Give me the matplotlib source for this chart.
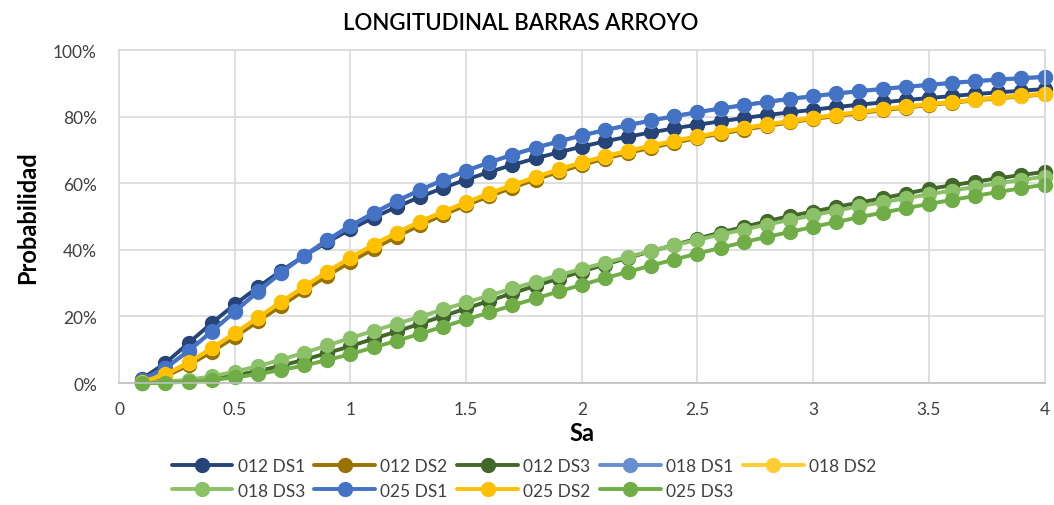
import matplotlib
matplotlib.use("Agg")
import matplotlib.pyplot as plt
from matplotlib.ticker import PercentFormatter

plt.rcParams['font.family'] = ['Lato', 'DejaVu Sans']

sa = [round(0.1 * i, 1) for i in range(1, 41)]

s012_ds1 = [1.3, 6.0, 12.0, 18.0, 23.6, 28.8, 33.7, 38.2, 42.3, 46.2,
            49.7, 52.9, 55.9, 58.6, 61.1, 63.4, 65.5, 67.5, 69.3, 71.0,
            72.6, 74.0, 75.3, 76.5, 77.6, 78.6, 79.6, 80.5, 81.3, 82.1,
            82.9, 83.6, 84.3, 85.0, 85.6, 86.2, 86.8, 87.3, 87.8, 88.3]
s012_ds2 = [0.3, 2.0, 5.3, 9.4, 13.8, 18.5, 23.2, 27.8, 32.2, 36.4,
            40.3, 44.0, 47.4, 50.5, 53.4, 56.1, 58.7, 61.1, 63.4, 65.5,
            67.4, 69.1, 70.7, 72.2, 73.6, 74.9, 76.1, 77.2, 78.3, 79.3,
            80.2, 81.1, 81.9, 82.7, 83.5, 84.2, 84.9, 85.5, 86.1, 86.7]
s012_ds3 = [0.0, 0.2, 0.6, 1.3, 2.3, 3.6, 5.2, 7.0, 9.0, 11.1,
            13.3, 15.5, 17.8, 20.1, 22.4, 24.7, 27.0, 29.2, 31.4, 33.5,
            35.6, 37.6, 39.6, 41.5, 43.4, 45.2, 46.9, 48.6, 50.2, 51.5,
            52.9, 54.2, 55.5, 56.9, 58.3, 59.4, 60.5, 61.5, 62.5, 63.4]
s018_ds1 = [1.0, 4.4, 9.6, 15.4, 21.4, 27.4, 33.1, 38.2, 42.9, 47.2,
            51.0, 54.6, 57.9, 60.9, 63.7, 66.2, 68.5, 70.6, 72.5, 74.3,
            75.9, 77.4, 78.8, 80.1, 81.3, 82.4, 83.4, 84.4, 85.3, 86.1,
            86.9, 87.6, 88.3, 88.9, 89.5, 90.1, 90.6, 91.1, 91.5, 91.9]
s018_ds2 = [0.4, 2.5, 6.1, 10.4, 14.9, 19.6, 24.3, 28.9, 33.4, 37.6,
            41.5, 45.1, 48.4, 51.4, 54.2, 56.9, 59.4, 61.8, 64.1, 66.2,
            68.0, 69.7, 71.2, 72.7, 74.0, 75.3, 76.5, 77.6, 78.6, 79.6,
            80.5, 81.4, 82.2, 83.0, 83.7, 84.4, 85.1, 85.7, 86.3, 86.8]
s018_ds3 = [0.1, 0.4, 1.0, 2.0, 3.4, 5.1, 7.0, 9.1, 11.3, 13.5,
            15.7, 17.8, 19.9, 22.1, 24.2, 26.3, 28.4, 30.4, 32.4, 34.3,
            36.1, 37.9, 39.7, 41.4, 43.0, 44.6, 46.1, 47.6, 49.0, 50.4,
            51.8, 53.1, 54.3, 55.5, 56.7, 57.8, 58.9, 60.0, 61.0, 62.0]
s025_ds1 = [1.0, 4.5, 9.7, 15.5, 21.5, 27.5, 33.2, 38.3, 43.0, 47.3,
            51.1, 54.7, 58.0, 61.0, 63.8, 66.3, 68.6, 70.7, 72.6, 74.4,
            76.0, 77.5, 78.9, 80.2, 81.4, 82.5, 83.5, 84.5, 85.4, 86.2,
            87.0, 87.7, 88.4, 89.0, 89.6, 90.2, 90.7, 91.2, 91.6, 92.0]
s025_ds2 = [0.4, 2.6, 6.2, 10.5, 15.0, 19.7, 24.4, 29.0, 33.5, 37.7,
            41.6, 45.2, 48.5, 51.5, 54.3, 57.0, 59.5, 61.9, 64.2, 66.3,
            68.1, 69.8, 71.3, 72.8, 74.1, 75.4, 76.6, 77.7, 78.7, 79.7,
            80.6, 81.5, 82.3, 83.1, 83.8, 84.5, 85.2, 85.8, 86.4, 86.9]
s025_ds3 = [0.0, 0.1, 0.4, 0.9, 1.7, 2.7, 3.9, 5.3, 6.9, 8.7,
            10.7, 12.7, 14.8, 16.9, 19.1, 21.2, 23.3, 25.4, 27.5, 29.5,
            31.5, 33.4, 35.3, 37.1, 38.9, 40.6, 42.3, 43.9, 45.4, 46.9,
            48.4, 49.8, 51.2, 52.5, 53.8, 55.0, 56.2, 57.4, 58.5, 59.6]

labels = ["012 DS1", "012 DS2", "012 DS3", "018 DS1", "018 DS2",
          "018 DS3", "025 DS1", "025 DS2", "025 DS3"]
series = [s012_ds1, s012_ds2, s012_ds3, s018_ds1, s018_ds2,
          s018_ds3, s025_ds1, s025_ds2, s025_ds3]
colors = ["#264478", "#997300", "#43682B", "#698ED0", "#FFCD33",
          "#8CC168", "#4472C4", "#FFC000", "#70AD47"]

title = "LONGITUDINAL BARRAS ARROYO"
xticks = [0, 0.5, 1, 1.5, 2, 2.5, 3, 3.5, 4]
xticklabels = ["0", "0.5", "1", "1.5", "2", "2.5", "3", "3.5", "4"]
yticks = [0, 20, 40, 60, 80, 100]

fig = plt.figure(figsize=(10.54, 5.06), dpi=100)
ax = fig.add_axes([0.113, 0.241, 0.878, 0.658])

handles = []
for lab, vals, col in zip(labels, series, colors):
    h, = ax.plot(sa, [v / 100 for v in vals], color=col, lw=2.8,
                 marker='o', markersize=10, label=lab, clip_on=False,
                 solid_capstyle='round')
    handles.append(h)

ax.set_xlim(0, 4)
ax.set_ylim(0, 1)
ax.set_xticks(xticks)
ax.set_xticklabels(xticklabels)
ax.set_yticks([y / 100 for y in yticks])
ax.yaxis.set_major_formatter(PercentFormatter(1.0, decimals=0))
ax.grid(True, color="#d9d9d9", lw=1.2)
ax.set_axisbelow(True)
ax.tick_params(length=0, labelsize=12.5, colors="#404040")
ax.tick_params(axis='x', pad=13)
ax.tick_params(axis='y', pad=16)
for side in ["top", "right", "left"]:
    ax.spines[side].set_color("#d9d9d9")
    ax.spines[side].set_linewidth(1.2)
ax.spines["bottom"].set_color("#bfbfbf")
ax.spines["bottom"].set_linewidth(1.2)

fig.text(0.494, 0.953, title, ha='center', va='center', fontsize=16,
         color="black", fontweight='semibold')
ax.set_xlabel("Sa", fontsize=17, fontweight='bold', labelpad=3)
ax.set_ylabel("Probabilidad", fontsize=17, fontweight='bold', labelpad=10)

order = [0, 5, 1, 6, 2, 7, 3, 8, 4]
leg = fig.legend([handles[i] for i in order], [labels[i] for i in order],
                 ncol=5, loc='center', bbox_to_anchor=(0.497, 0.053),
                 frameon=False, fontsize=12.5, handlelength=3.5,
                 columnspacing=0.55, handletextpad=0.3, labelspacing=0.5,
                 labelcolor="#404040")

fig.savefig("out.png", dpi=100)
